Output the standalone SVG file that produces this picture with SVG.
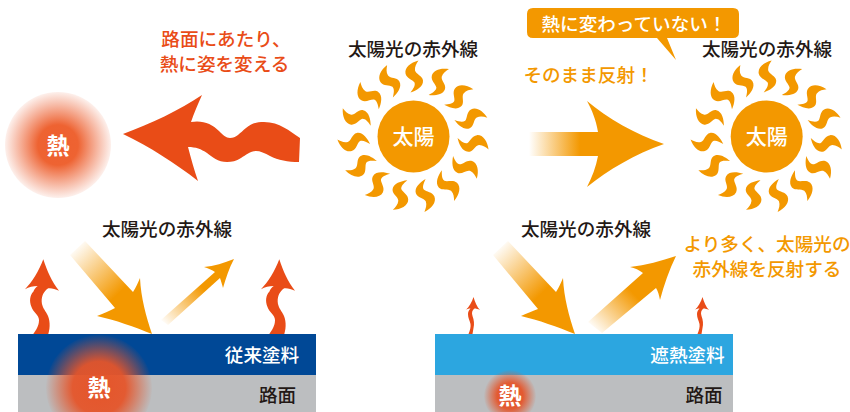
<svg xmlns="http://www.w3.org/2000/svg" xmlns:xlink="http://www.w3.org/1999/xlink" width="850" height="412" viewBox="0 0 850 412">
<style>
text{font-family:"Noto Sans CJK JP","Noto Sans",sans-serif;font-weight:500;text-anchor:middle;font-size:18.6px}
.dark{fill:#231815}.white{fill:#fff}.orange{fill:#f39800}.red{fill:#e94c17}
.or{fill:#f39800}.rd{fill:#e94c17}
</style>
<defs>
<radialGradient id="heatA"><stop offset="0" stop-color="#ee5f2e"/><stop offset="0.38" stop-color="#ee6332"/><stop offset="1" stop-color="#ec6a40" stop-opacity="0.1"/></radialGradient>
<radialGradient id="heatB"><stop offset="0" stop-color="#e5552a"/><stop offset="0.5" stop-color="#e5552a" stop-opacity="0.95"/><stop offset="1" stop-color="#e5552a" stop-opacity="0.03"/></radialGradient>
<linearGradient id="g1" gradientUnits="userSpaceOnUse" x1="529" y1="0" x2="580" y2="0"><stop offset="0" stop-color="#f39800" stop-opacity="0"/><stop offset="1" stop-color="#f39800"/></linearGradient>
<linearGradient id="g2" gradientUnits="userSpaceOnUse" x1="75" y1="246" x2="120" y2="292"><stop offset="0" stop-color="#f39800" stop-opacity="0"/><stop offset="1" stop-color="#f39800"/></linearGradient>
<linearGradient id="g3" gradientUnits="userSpaceOnUse" x1="163" y1="324" x2="203" y2="288"><stop offset="0" stop-color="#f39800" stop-opacity="0"/><stop offset="1" stop-color="#f39800"/></linearGradient>
<linearGradient id="g4" gradientUnits="userSpaceOnUse" x1="498" y1="246" x2="543" y2="292"><stop offset="0" stop-color="#f39800" stop-opacity="0"/><stop offset="1" stop-color="#f39800"/></linearGradient>
<linearGradient id="g5" gradientUnits="userSpaceOnUse" x1="593" y1="330" x2="632" y2="292"><stop offset="0" stop-color="#f39800" stop-opacity="0"/><stop offset="1" stop-color="#f39800"/></linearGradient>
<path id="ray" class="or" d="M5,-76C-3,-74-9,-69-8,-63C-7,-58-1,-57 1,-54C2,-51 0,-48-3,-44C3,-46 10,-50 9.500,-56C9,-61 2.500,-62 1.500,-66C1,-70 3,-73 5,-76Z"/>
<g id="rays">
<use xlink:href="#ray"/><use xlink:href="#ray" transform="rotate(24)"/><use xlink:href="#ray" transform="rotate(48)"/><use xlink:href="#ray" transform="rotate(72)"/><use xlink:href="#ray" transform="rotate(96)"/><use xlink:href="#ray" transform="rotate(120)"/><use xlink:href="#ray" transform="rotate(144)"/><use xlink:href="#ray" transform="rotate(168)"/><use xlink:href="#ray" transform="rotate(192)"/><use xlink:href="#ray" transform="rotate(216)"/><use xlink:href="#ray" transform="rotate(240)"/><use xlink:href="#ray" transform="rotate(264)"/><use xlink:href="#ray" transform="rotate(288)"/><use xlink:href="#ray" transform="rotate(312)"/><use xlink:href="#ray" transform="rotate(336)"/>
</g>
<path id="wave" class="rd" d="M43.300,259.300C47,271 52,282 59,290.700C55,289 52,288 48.300,288.300C44,291 41.500,296 41.700,301.700C42,307 45,310 47,314C50,319 50.500,327 48.300,334L33.300,334C36,330 39,326 39,320C39,315 33,312 31.500,307C29,301 30,295 33.300,291.700C34.500,289 36,287 37.700,286C33,286 29,287 25,289.300C32,282 39,271 43.300,259.300Z"/>
<path id="waveSmall" class="rd" d="M473.500,297C475,302 477,307 480,310C478,309 476,308.500 474.500,308.500C472,310 471.500,313 472.500,316C474,320 474.500,324 473.500,328L472.500,334L468.500,334C470,330 471,327 470.500,324C469.500,320 468,318 468,314C468,312 469,310 470.500,308.500C468.500,308.500 467,309 465.700,310C469,307 472,302 473.500,297Z"/>
</defs>
<g id="connectors">
<path id="arrow-heat" class="rd" d="M123,134C150,124 180,110 202,95C198,104 194,113 191,122C203,120 212,124 219,131C223,135 226,138 230,138C236,138 240,133 246,128C251,124 256,122 264,122C280,122 289,131 300,138L299,162C288,162 278,160 270,156C265,153 260,151 256,151C250,151 246,155 241,158C236,161 232,162 227,162C218,162 212,157 207,153C201,149 196,147 188,147C191,158 194,170 198,181C175,163 150,147 123,134Z"/>
<path id="arrow-reflect" fill="url(#g1)" d="M529,132H598C596,120 592,110 587,101C607,118 635,134 664,144C635,154 608,170 587,187C592,177 596,167 598,156H529Z"/>
<path id="arrow-in-left" fill="url(#g2)" d="M85,241L133,292C136,287 138,283 140,278C141,298 146,316 152,334C135,327 115,320 97,316C104,313 110,311 115,308L70,255Z"/>
<path id="arrow-out-left" fill="url(#g3)" d="M161,320L215,272C212,270 208,268 204,267C214,266 224,263 234,259C229,268 226,278 223,288C222,284 221,281 220,278L168,325Z"/>
<path id="arrow-in-right" fill="url(#g4)" d="M508,241L556,292C559,287 561,283 563,278C564,298 569,316 575,334C558,327 538,320 521,316C527,313 533,311 538,309L493,255Z"/>
<path id="arrow-out-right" fill="url(#g5)" d="M588,322L643,273C639,270 635,268 630,267C646,265 661,261 676,256C669,270 664,285 660,300C659,295 658,291 656,288L602,333Z"/>
<use id="heat-up-1" xlink:href="#wave"/>
<use id="heat-up-2" xlink:href="#wave" x="236"/>
<use id="heat-up-3" xlink:href="#waveSmall"/>
<use id="heat-up-4" xlink:href="#waveSmall" x="229"/>
</g>
<g id="heat-ball">
<circle cx="58" cy="145" r="53" fill="url(#heatA)"/>
<text class="white" x="58" y="154" style="font-size:23px;font-weight:700">熱</text>
</g>
<g id="heat-label"><text class="red" x="226" y="46">路面にあたり、</text><text class="red" x="224.500" y="71">熱に姿を変える</text></g>
<g id="sun-1">
<text class="dark" x="413" y="56">太陽光の赤外線</text>
<use xlink:href="#rays" transform="translate(413.5,136.5)"/>
<circle class="or" cx="413.5" cy="136.5" r="36"/>
<text class="white" x="413.5" y="144" style="font-size:21px">太陽</text>
</g>
<g id="sun-2">
<text class="dark" x="767" y="56">太陽光の赤外線</text>
<use xlink:href="#rays" transform="translate(766.7,136.5)"/>
<circle class="or" cx="766.7" cy="136.5" r="36"/>
<text class="white" x="766.7" y="144" style="font-size:21px">太陽</text>
</g>
<g id="bubble">
<path class="or" d="M533,8H733Q739,8 739,14V32Q739,38 733,38H667L676,60L657,38H533Q527,38 527,32V14Q527,8 533,8Z"/>
<text class="white" x="634" y="31">熱に変わっていない！</text>
</g>
<g id="reflect-label"><text class="orange" x="588.500" y="82">そのまま反射！</text></g>
<g id="road-left">
<text class="dark" x="167" y="236">太陽光の赤外線</text>
<rect x="18" y="334" width="298" height="41" fill="#004896"/>
<rect x="18" y="375" width="298" height="37" fill="#bcbec0"/>
<circle cx="99" cy="388" r="53" fill="url(#heatB)"/>
<text class="white" x="262" y="362">従来塗料</text>
<text class="dark" x="277.500" y="402">路面</text>
<text class="white" x="99" y="396" style="font-size:23px;font-weight:700">熱</text>
</g>
<g id="road-right">
<text class="dark" x="586" y="236">太陽光の赤外線</text>
<rect x="435" y="334" width="298" height="41" fill="#2ca6e0"/>
<rect x="435" y="375" width="298" height="37" fill="#bcbec0"/>
<circle cx="510" cy="396" r="26" fill="url(#heatB)"/>
<text class="white" x="687.500" y="362">遮熱塗料</text>
<text class="dark" x="704" y="402">路面</text>
<text class="white" x="510" y="404" style="font-size:23px;font-weight:700">熱</text>
</g>
<g id="more-label"><text class="orange" x="767" y="251">より多く、太陽光の</text><text class="orange" x="767" y="276">赤外線を反射する</text></g>
</svg>
